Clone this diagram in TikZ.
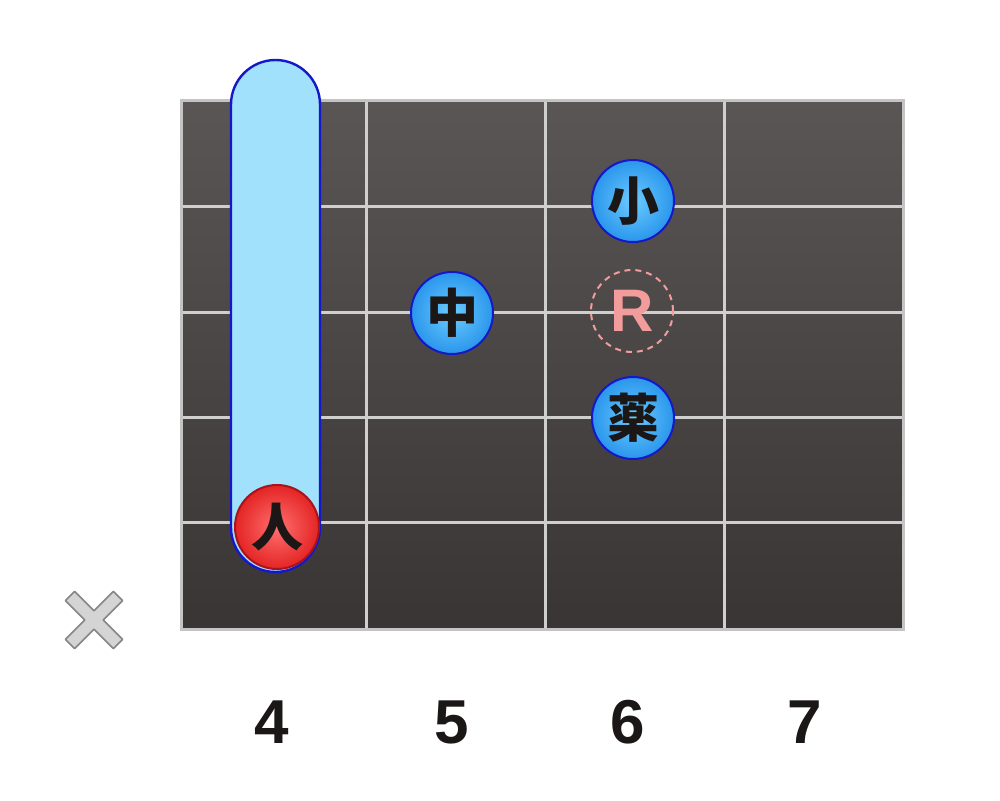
\documentclass[tikz,border=0pt]{standalone}
\usepackage{fontspec}
\setmainfont{Liberation Sans}
\newfontfamily\cjk{Noto Sans CJK JP}
\definecolor{boardtop}{HTML}{5A5656}
\definecolor{boardbot}{HTML}{3A3535}
\definecolor{wirecol}{HTML}{CFCFCF}
\definecolor{framecol}{HTML}{C4C4C4}
\definecolor{barrefill}{HTML}{A2E1FC}
\definecolor{barreedge}{HTML}{1418C8}
\definecolor{bluein}{HTML}{6CCBFF}
\definecolor{blueout}{HTML}{2A96EC}
\definecolor{redin}{HTML}{FF7070}
\definecolor{redout}{HTML}{E42424}
\definecolor{rededge}{HTML}{A8141A}
\definecolor{pinkcol}{HTML}{F39C9C}
\definecolor{inkcol}{HTML}{1A1716}
\definecolor{crossfill}{HTML}{D4D4D4}
\definecolor{crossedge}{HTML}{858585}
\tikzset{
  wire/.style={draw=wirecol, line width=3pt},
  barre/.style={rectangle, rounded corners=44.5pt, minimum width=89pt, minimum height=512pt,
    inner sep=0pt, fill=barrefill, draw=barreedge, line width=2.4pt},
  fingerdot/.style={circle, minimum size=82pt, inner sep=0pt, line width=2pt,
    text=inkcol, font=\cjk\bfseries\fontsize{52}{56}\selectfont},
  bluedot/.style={fingerdot, draw=barreedge, inner color=bluein, outer color=blueout},
  reddot/.style={fingerdot, minimum size=84pt, draw=rededge, inner color=redin, outer color=redout},
  rootmark/.style={circle, minimum size=82pt, inner sep=0pt, draw=pinkcol, line width=2pt,
    dash pattern=on 6pt off 5pt, text=pinkcol, font=\bfseries\fontsize{60}{66}\selectfont},
  fretnum/.style={text=inkcol, font=\bfseries\fontsize{62}{70}\selectfont}
}
\begin{document}
\begin{tikzpicture}[x=1pt,y=-1pt]
\useasboundingbox (0,0) rectangle (1000,800);
\fill[white] (0,0) rectangle (1000,800);
% fretboard
\shade[top color=boardtop, bottom color=boardbot] (181,100) rectangle (903,629);
\foreach \x in {366,545,724} \draw[wire] (\x,100) -- (\x,629);
\foreach \y in {206,312,417,522} \draw[wire] (181,\y) -- (903,\y);
\draw[draw=framecol, line width=3pt] (181,100) rectangle (903,629);
% barre
\node[barre] (barre) at (275.5,316) {};
% dots
\node[reddot] (hito) at (277,527) {人};
\node[bluedot] (naka) at (452,313) {中};
\node[bluedot] (ko) at (633,201) {小};
\node[bluedot] (kusuri) at (633,418) {薬};
\node[rootmark] (root) at (632,311) {R};
% muted mark
\begin{scope}[shift={(94,620)}, rotate=45]
  \filldraw[fill=crossfill, draw=crossedge, line width=1.6pt, line join=round]
    (34,6.5) -- (6.5,6.5) -- (6.5,34) -- (-6.5,34) -- (-6.5,6.5) -- (-34,6.5) -- (-34,-6.5) -- (-6.5,-6.5)
    -- (-6.5,-34) -- (6.5,-34) -- (6.5,-6.5) -- (34,-6.5) -- cycle;
\end{scope}
% fret numbers
\node[fretnum] (f4) at (272,722) {4};
\node[fretnum] (f5) at (452,722) {5};
\node[fretnum] (f6) at (628,722) {6};
\node[fretnum] (f7) at (805,722) {7};
\end{tikzpicture}
\end{document}
